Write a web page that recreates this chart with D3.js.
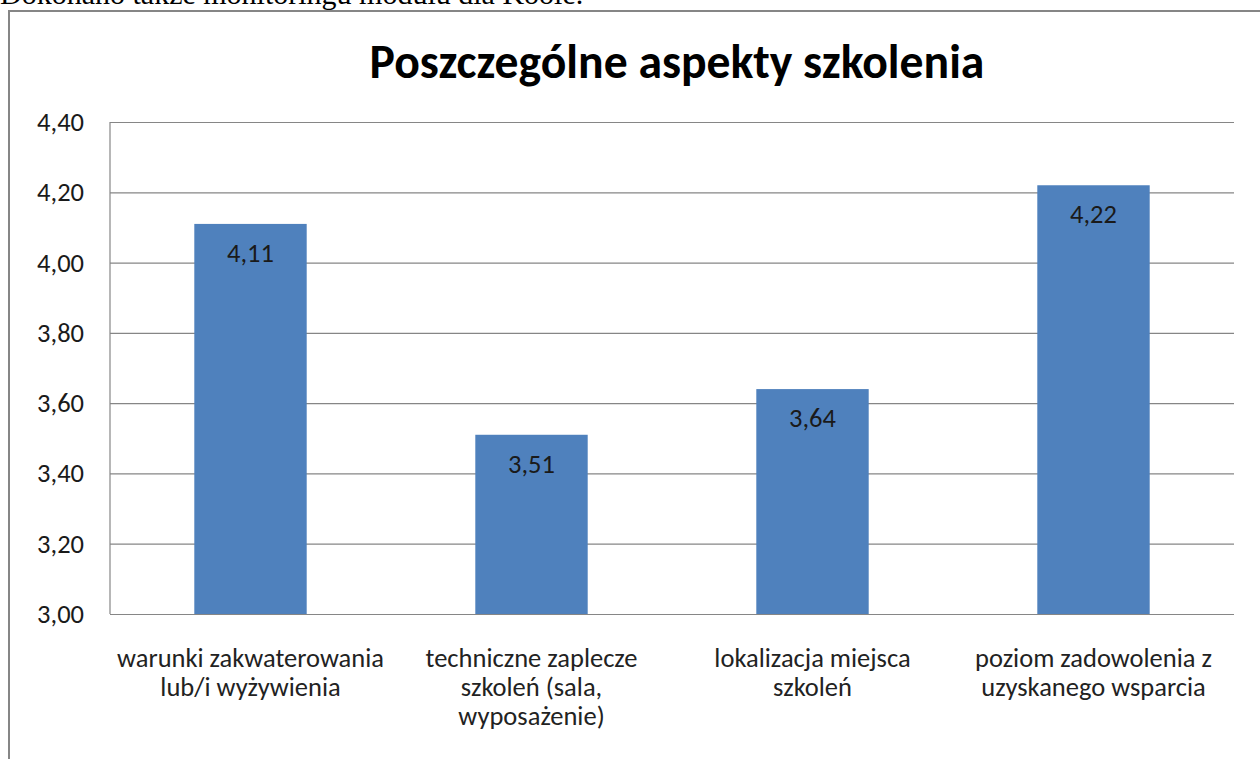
<!DOCTYPE html>
<html>
<head>
<meta charset="utf-8">
<script src="https://cdn.jsdelivr.net/npm/d3@7"></script>
<style>
  html, body { margin: 0; padding: 0; background: #fff; overflow: hidden; }
  svg { display: block; }
</style>
</head>
<body>
<svg id="chart" width="1260" height="759"></svg>
<script>
const title = "Poszczególne aspekty szkolenia";
const pageText = "Dokonano także monitoringu modułu dla Koole.";
const categories = [
  "warunki zakwaterowania\nlub/i wyżywienia",
  "techniczne zaplecze\nszkoleń (sala,\nwyposażenie)",
  "lokalizacja miejsca\nszkoleń",
  "poziom zadowolenia z\nuzyskanego wsparcia"
];
const values = [4.11, 3.51, 3.64, 4.22];
const yTicks = [3.0, 3.2, 3.4, 3.6, 3.8, 4.0, 4.2, 4.4];

(function () {
const svg = d3.select("#chart");
const font = "Carlito, Calibri, Lato, 'Open Sans', sans-serif";
const fmt = v => d3.format(".2f")(v).replace(".", ",");

// calibrate small text size: first label line should be ~267px wide
const probe = svg.append("text").attr("font-family", font).attr("font-size", 20)
  .text(categories[0].split("\n")[0]);
const pw = probe.node().getComputedTextLength();
probe.remove();
const fs = pw > 0 ? 20 * 267 / pw : 24;

// page text (cut off at top)
svg.append("text")
  .attr("x", 0).attr("y", 4)
  .attr("font-family", "'Liberation Serif', 'Times New Roman', serif")
  .attr("font-size", 30)
  .attr("fill", "#000")
  .text(pageText);

// chart frame
svg.append("rect")
  .attr("x", 9).attr("y", 11)
  .attr("width", 1300).attr("height", 800)
  .attr("fill", "#fff")
  .attr("stroke", "#868686").attr("stroke-width", 2);

const pL = 110, pR = 1234, pT = 122, pB = 614;
const x = d3.scaleBand().domain(d3.range(categories.length)).range([pL, pR]).paddingInner(0.6).paddingOuter(0.3);
const y = d3.scaleLinear().domain([3.0, 4.4]).range([pB, pT]);

// gridlines + tick labels
const yAxis = d3.axisLeft(y).tickValues(yTicks).tickSize(-(pR - pL)).tickFormat(fmt).tickPadding(26);
const gy = svg.append("g").attr("transform", `translate(${pL},0)`).call(yAxis);
gy.select(".domain").remove();
gy.selectAll(".tick line").attr("stroke", "#868686").attr("stroke-width", 1.2);
gy.selectAll(".tick text").attr("font-family", font).attr("font-size", fs).attr("fill", "#1a1a1a");

// left axis line
svg.append("line").attr("x1", pL).attr("x2", pL).attr("y1", pT).attr("y2", pB)
  .attr("stroke", "#868686").attr("stroke-width", 1.2);

// bars
svg.selectAll("rect.bar").data(values).join("rect")
  .attr("class", "bar")
  .attr("x", (d, i) => x(i))
  .attr("width", x.bandwidth())
  .attr("y", d => y(d))
  .attr("height", d => y(3.0) - y(d))
  .attr("fill", "#4F81BD");

// value labels
svg.selectAll("text.val").data(values).join("text")
  .attr("class", "val")
  .attr("x", (d, i) => x(i) + x.bandwidth() / 2)
  .attr("y", d => y(d) + 38)
  .attr("text-anchor", "middle")
  .attr("font-family", font).attr("font-size", fs).attr("fill", "#1a1a1a")
  .text(d => fmt(d));

// category labels
categories.forEach((c, i) => {
  const t = svg.append("text")
    .attr("text-anchor", "middle")
    .attr("font-family", font).attr("font-size", fs).attr("fill", "#222");
  c.split("\n").forEach((line, j) => {
    t.append("tspan")
      .attr("x", x(i) + x.bandwidth() / 2)
      .attr("y", 667 + j * 29)
      .text(line);
  });
});

// title
const tt = svg.append("text")
  .attr("x", 677).attr("y", 78)
  .attr("text-anchor", "middle")
  .attr("font-family", font).attr("font-weight", "bold").attr("font-size", 36)
  .attr("fill", "#000")
  .text(title);
const w = tt.node().getComputedTextLength();
if (w > 0) tt.attr("font-size", 36 * 615 / w);
})();
</script>
</body>
</html>
